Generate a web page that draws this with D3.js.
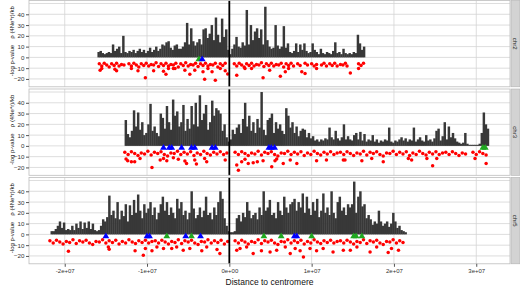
<!DOCTYPE html>
<html>
<head>
<meta charset="utf-8">
<script src="https://cdn.jsdelivr.net/npm/d3@7"></script>
<style>
  body { margin: 0; background: #fff; }
  svg { display: block; font-family: "Liberation Sans", Arial, sans-serif; }
</style>
</head>
<body>
<svg id="chart" width="520" height="287"></svg>
<script>
// one facet per chromosome
var chromosomes = ["chr2", "chr3", "chr5"];

// rho (4Ne*r)/kb in 0.25 Mb windows, first window starts at chrXStart (Mb from centromere)
var binMb = 0.25;
var chr2Start = -15.9;
var chr2Rho = [5,6,4,3,4,5,4,12,6,8, 10,4,20,5,4,6,5,7,4,6, 8,5,7,4,6,9,5,7,10,6, 8,12,11,14,15,9,7,11,12,8,
  8,10,14,32,12,27,15,11,14,17, 12,26,27,18,22,30,16,37,21,14, 36,19,26,7,3,8,12,19,10,9, 14,11,44,12,30,16,24,27,18,26,
  12,47,16,10,8,9,30,11,8,10, 29,9,13,5,4,6,13,5,12,7, 13,6,4,5,13,7,5,3,8,4, 3,5,4,3,6,14,4,5,3,8, 4,3,4,3,5,4,21,13,7,10];

var chr3Start = -12.6;
var chr3Rho = [24,11,8,14,33,18,31,15,22,10, 12,20,39,14,18,12,9,30,26,16, 37,22,15,43,28,32,18,22,38,14,
  25,16,37,20,40,18,47,24,30,38, 15,22,42,28,35,33,30,14,20,8, 4,6,15,11,17,20,12,25,40,18, 28,14,22,12,25,17,50,15,10,24,
  26,30,12,22,16,20,14,11,35,28, 17,22,12,18,9,14,16,15,8,12, 7,9,5,6,4,6,5,7,6,17, 8,6,14,7,5,8,20,6,9,6,
  5,10,12,6,13,5,11,4,6,5, 10,4,6,3,5,4,6,5,17,4, 3,5,4,6,8,5,7,4,6,5, 17,4,6,8,5,4,10,5,6,4,
  7,14,16,5,9,22,6,18,8,12, 7,4,3,2,3,12,2,1,1,1, 1,1,2,12,31,20,16];

var chr5Start = -21.6;
var chr5Rho = [3,3,5,8,12,6,11,4,5,4, 8,4,10,6,12,5,11,6,12,5, 10,4,3,4,8,14,12,16,36,18, 22,15,30,14,22,17,28,12,27,18,
  32,20,37,22,15,28,20,24,30,18, 25,14,20,28,35,22,30,18,25,20, 15,33,24,30,18,22,14,20,40,24, 15,18,25,16,22,35,18,20,14,25,
  18,30,40,33,15,8,3,2,2,3, 15,18,12,20,16,30,22,15,18,20, 14,25,18,40,22,25,32,18,20,15, 30,22,18,35,25,20,28,30,33,22,
  30,25,38,20,35,24,18,30,22,33, 16,22,38,20,25,18,40,20,15,30, 35,22,25,18,28,25,28,49,20,35, 40,26,28,15,18,14,9,12,10,22,
  12,8,10,12,7,10,20,12,6,8, 4,3,2];

// [Mb from centromere, -(-log p-value)]
var chr2Pval = [
  [-15.8,-6],[-15.5,-8],[-15.2,-5.5],[-14.9,-7],[-14.6,-9],[-14.3,-6],[-14.0,-7.5],[-13.7,-5.5],[-13.4,-8],[-13.1,-6.5],[-12.8,-7],
  [-12.2,-6],[-11.9,-8],[-11.6,-5.5],[-11.3,-7],[-11.0,-9],[-10.7,-6],[-10.4,-7.5],[-10.1,-5.5],[-9.8,-8],[-9.5,-6.5],[-9.2,-7],
  [-8.9,-5],[-8.6,-8.5],[-8.3,-6],[-8.0,-7.5],[-7.7,-5.5],[-7.4,-8],[-7.1,-6.5],[-6.8,-7],[-6.5,-5.5],[-6.2,-9],[-5.9,-6],
  [-5.6,-7.5],[-5.3,-5],[-5.0,-8],[-4.7,-6.5],[-4.4,-7],[-4.1,-5.5],[-3.8,-8.5],[-3.5,-6],[-3.2,-7.5],[-2.9,-5.5],[-2.6,-8],
  [-2.3,-6.5],[-2.0,-7],[-1.7,-5.5],[-1.4,-9],[-1.1,-6],[-0.8,-7.5],[-0.5,-5.5],
  [0.6,-6],[0.9,-8],[1.2,-5.5],[1.5,-7],[1.8,-9],[2.1,-6],[2.4,-7.5],[2.7,-5.5],[3.0,-8],[3.3,-6.5],[3.6,-7],[3.9,-5],
  [4.2,-8.5],[4.5,-6],[4.8,-7.5],[5.1,-5.5],[5.4,-8],[5.7,-6.5],[6.0,-7],[6.3,-5.5],[6.6,-9],[6.9,-6],[7.2,-7.5],[7.5,-5.5],[7.8,-8],
  [8.3,-6],[8.6,-7.5],[9.2,-5.5],[9.5,-7],[10.0,-6],[10.3,-8],[10.6,-6.5],[11.2,-7],[11.5,-5.5],[11.8,-8],[12.2,-6],[12.5,-7.5],
  [12.8,-5.5],[13.1,-8],[13.5,-6.5],[13.8,-7],[14.1,-5.5],[14.3,-8],[15.7,-6],[16.0,-7.5],[16.3,-5.5],
  [-15.7,-11.9],[-15.5,-10.3],[-13.9,-10.9],[-13.7,-12.5],[-11.9,-10.3],[-11.1,-12.5],[-10.2,-18.8],[-9.2,-12.5],[-8.0,-12.8],
  [-7.7,-15.6],[-7.4,-10.3],[-6.8,-10.3],[-6.6,-10.3],[-5.4,-11.9],[-4.8,-15.6],[-4.2,-11.9],[-3.2,-13.4],[-3.0,-20.3],
  [-2.6,-10.3],[-2.1,-13.4],[-1.7,-21.3],[-1.1,-10.3],[-0.5,-12.5],[-0.2,-15.5],[0.9,-16.6],[1.9,-10.3],[2.7,-10.3],
  [4.1,-18.8],[4.9,-11.9],[6.2,-17.5],[6.8,-13.4],[7.2,-10.3],[8.8,-13.4],[9.2,-15],[10.6,-10.3],[14.7,-14.4],[15.7,-10.3]
];

var chr3Pval = [
  [-12.7,-6],[-12.3,-8],[-11.9,-5.5],[-11.5,-7],[-11.1,-9],[-10.7,-6.5],[-10.3,-7.5],[-9.9,-5],[-9.5,-8.5],[-9.1,-6],[-8.7,-7],
  [-8.3,-5.5],[-7.9,-8],[-7.5,-9.5],[-7.1,-6.5],[-6.7,-7],[-6.3,-5],[-5.9,-8],[-5.5,-6],[-5.1,-7.5],[-4.7,-5.5],[-4.3,-9],
  [-3.9,-6.5],[-3.5,-8],[-3.1,-5],[-2.7,-7],[-2.3,-8.5],[-1.9,-6],[-1.5,-7.5],[-1.1,-5.5],[-0.7,-8],[-0.3,-6.5],
  [0.7,-6],[1.1,-8],[1.5,-5.5],[1.9,-7],[2.3,-9],[2.7,-6.5],[3.1,-7.5],[3.5,-5],[3.9,-8.5],[4.3,-6],[4.7,-7],[5.1,-5.5],
  [5.5,-8],[5.9,-9.5],[6.3,-6.5],[6.7,-7],[7.1,-5],[7.5,-8],[7.9,-6],[8.3,-7.5],[8.7,-5.5],[9.1,-9],[9.5,-6.5],[9.9,-8],
  [10.3,-5],[10.7,-7],[11.1,-8.5],[11.5,-6],[11.9,-7.5],[12.3,-5.5],[12.7,-8],[13.1,-6.5],[13.5,-6],[13.9,-8],[14.3,-5.5],
  [14.7,-7],[15.1,-9],[15.5,-6.5],[15.9,-7.5],[16.3,-5],[16.7,-8.5],[17.1,-6],[17.5,-7],[17.9,-5.5],[18.3,-8],[18.7,-9.5],
  [19.1,-6.5],[19.5,-7],[19.9,-5],[20.3,-8],[20.7,-6],[21.1,-7.5],[21.5,-5.5],[21.9,-9],[22.3,-6.5],[22.7,-8],[23.1,-5],
  [23.5,-7],[23.9,-8.5],[24.3,-6],[24.7,-7.5],[25.1,-5.5],[25.5,-8],[25.9,-6.5],[26.3,-6],[26.7,-8],[27.1,-5.5],[27.5,-7],
  [27.9,-9],[28.3,-6.5],[28.7,-7.5],
  [29.6,-6],[30.0,-8],[30.4,-5.5],[30.8,-7],[31.2,-8.5],
  [-12.55,-12.2],[-12.35,-13.75],[-11.9,-14.7],[-11.5,-14.7],[-10.85,-11.6],[-9.4,-20],[-8.4,-13.1],[-8.0,-11.6],[-7.6,-13.75],
  [-6.8,-11],[-6.2,-12.5],[-5.4,-14],[-5.2,-16.25],[-4.2,-13.1],[-4.0,-16.9],[-3.0,-11.6],[-2.75,-14.7],[-0.5,-13.1],
  [0.9,-17.8],[1.1,-22.5],[1.5,-14.7],[1.9,-12.5],[2.3,-16.25],[2.9,-15.6],[3.4,-14.7],[4.1,-13.75],[5.15,-19.4],
  [5.55,-13.75],[5.75,-12.2],[6.55,-16.25],[7.4,-13.1],[8.2,-16.25],[10.6,-13.75],[11.8,-13.1],[13.85,-13.1],
  [14.05,-13.1],[16.1,-13.75],[17.3,-11.6],[18.7,-14.7],[21.75,-11.6],[22.15,-13.1],[24.0,-11.6],[24.7,-18.4],
  [25.2,-11.6],[29.85,-11.6],[31.2,-16.25]
];

var chr5Pval = [
  [-21.8,-6],[-21.4,-8],[-21.0,-5.5],[-20.6,-7],[-20.2,-9],[-19.8,-6.5],[-19.4,-7.5],[-19.0,-5],[-18.6,-8.5],[-18.2,-6],
  [-17.8,-7],[-17.4,-5.5],[-17.0,-8],[-16.6,-9.5],[-16.2,-6.5],[-15.8,-7],[-15.4,-5],[-15.0,-8],[-14.6,-6],[-14.2,-7.5],
  [-13.8,-5.5],[-13.4,-9],[-13.0,-6.5],[-12.6,-8],[-12.2,-5],[-11.8,-7],[-11.4,-8.5],[-11.0,-6],[-10.6,-7.5],[-10.2,-5.5],
  [-9.8,-8],[-9.4,-6.5],[-9.0,-6],[-8.6,-8],[-8.2,-5.5],[-7.8,-7],[-7.4,-9],[-7.0,-6.5],[-6.6,-7.5],[-6.2,-5],[-5.8,-8.5],
  [-5.4,-6],[-5.0,-7],[-4.6,-5.5],[-4.2,-8],[-3.8,-9.5],[-3.4,-6.5],[-3.0,-7],[-2.6,-5],[-2.2,-8],[-1.8,-6],[-1.4,-7.5],
  [-1.0,-5.5],[-0.6,-9],[-0.2,-6.5],
  [0.7,-6],[1.1,-8],[1.5,-5.5],[1.9,-7],[2.3,-9],[2.7,-6.5],[3.1,-7.5],[3.5,-5],[3.9,-8.5],[4.3,-6],[4.7,-7],[5.1,-5.5],
  [5.5,-8],[5.9,-9.5],[6.3,-6.5],[6.7,-7],[7.1,-5],[7.5,-8],[7.9,-6],[8.3,-7.5],[8.7,-5.5],[9.1,-9],[9.5,-6.5],[9.9,-8],
  [10.3,-5],[10.7,-7],[11.1,-8.5],[11.5,-6],[11.9,-7.5],[12.3,-5.5],[12.7,-8],[13.1,-6.5],[13.5,-6],[13.9,-8],[14.3,-5.5],
  [14.7,-7],[15.1,-9],[15.5,-6.5],[15.9,-7.5],[16.3,-5],[16.7,-8.5],[17.1,-6],[17.5,-7],[17.9,-5.5],[18.3,-8],[18.7,-9.5],
  [19.1,-6.5],[19.5,-7],[19.9,-5],[20.3,-8],[20.7,-6],[21.1,-7.5],
  [-19.55,-15.6],[-14.7,-11.6],[-14.6,-13.75],[-11.45,-15.3],[-10.45,-19.4],[-10.2,-13.1],[-9.4,-15.3],[-8.8,-11.6],
  [-8.0,-13.1],[-7.0,-13.1],[-6.4,-11.6],[-5.6,-14.7],[-4.8,-13.1],[-3.35,-15.3],[-2.75,-11.6],[-1.5,-14],[-1.15,-17.8],
  [0.9,-14.7],[1.3,-13.1],[2.1,-11.6],[2.9,-17.8],[3.9,-15.3],[4.95,-16.25],[5.75,-14.7],[6.8,-11.6],[7.4,-17.8],
  [8.0,-13.1],[8.6,-15.3],[9.0,-21],[9.8,-13.1],[10.6,-15.3],[11.4,-13.1],[12.6,-16.25],[13.85,-14.7],[14.7,-14.7],
  [15.5,-11.6],[17.1,-16.25],[17.9,-11.6],[19.3,-16.9],[19.7,-13.1],[20.55,-14.7]
];

// marker positions (Mb from centromere)
var chr2Blue = [-3.3];
var chr2Green = [-3.7];
var chr3Blue = [-8.0, -7.3, -7.0, -5.8, -4.6, -4.2, -2.1, -1.7, 4.8, 5.1, 5.5];
var chr3Green = [30.8, 31.1];
var chr5Blue = [-15.0, -10.0, -9.7, -5.3, -3.5, 7.9, 8.2];
var chr5Green = [-7.6, -4.6, 4.2, 6.3, 10.0, 15.1, 15.4, 16.1];

var xTicks = [-2e7, -1e7, 0, 1e7, 2e7, 3e7];
var xTickLabels = ["-2e+07", "-1e+07", "0e+00", "1e+07", "2e+07", "3e+07"];
var yTicks = [-20, -10, 0, 10, 20, 30, 40];
var yGrid = [-20, -10, 0, 10, 20, 30, 40, 50];

var panels = [
  {name: chromosomes[0], start: chr2Start, rho: chr2Rho, pval: chr2Pval, blue: chr2Blue, green: chr2Green},
  {name: chromosomes[1], start: chr3Start, rho: chr3Rho, pval: chr3Pval, blue: chr3Blue, green: chr3Green},
  {name: chromosomes[2], start: chr5Start, rho: chr5Rho, pval: chr5Pval, blue: chr5Blue, green: chr5Green}
];

var left = 29, right = 510, panelH = 86.3;
var tops = [0.5, 89, 177.5];

var svg = d3.select("#chart");

var x = d3.scaleLinear().domain([-24.34e6, 34.1e6]).range([left, right]);
var y = d3.scaleLinear().domain([-27.3, 52.8]).range([panelH, 0]);
var binW = x(binMb * 1e6) - x(0);

var tri = d3.symbol().type(d3.symbolTriangle).size(20);

panels.forEach(function(p, k) {
    var g = svg.append("g").attr("transform", "translate(0," + tops[k] + ")");

    g.append("rect")
        .attr("x", left).attr("y", 0)
        .attr("width", right - left).attr("height", panelH)
        .attr("fill", "#fff");

    // grid
    g.selectAll(".hgrid").data(yGrid).enter().append("line")
        .attr("x1", left).attr("x2", right)
        .attr("y1", d => y(d)).attr("y2", d => y(d))
        .attr("stroke", "#d4d4d4").attr("stroke-width", 0.8);
    g.selectAll(".vgrid").data(xTicks).enter().append("line")
        .attr("x1", d => x(d)).attr("x2", d => x(d))
        .attr("y1", 0).attr("y2", panelH)
        .attr("stroke", "#d4d4d4").attr("stroke-width", 0.8);

    // rho bars, one per window (slight overlap so no seams)
    g.selectAll(".bar").data(p.rho).enter().append("rect")
        .attr("x", (d, i) => x((p.start + i * binMb) * 1e6) - binW / 2)
        .attr("width", binW + 0.4)
        .attr("y", d => y(d))
        .attr("height", d => y(0) - y(d))
        .attr("fill", "#383838");

    // p-values below zero
    g.selectAll(".pv").data(p.pval).enter().append("circle")
        .attr("cx", d => x(d[0] * 1e6))
        .attr("cy", d => y(d[1]))
        .attr("r", 1.75)
        .attr("fill", "#ff0000");

    // markers
    g.selectAll(".green").data(p.green).enter().append("path")
        .attr("d", tri)
        .attr("transform", d => "translate(" + x(d * 1e6) + "," + y(-1.8) + ")")
        .attr("fill", "#1fa81f");
    g.selectAll(".blue").data(p.blue).enter().append("path")
        .attr("d", tri)
        .attr("transform", d => "translate(" + x(d * 1e6) + "," + y(-1.8) + ")")
        .attr("fill", "#0000ff");

    // centromere
    g.append("line")
        .attr("x1", x(0)).attr("x2", x(0))
        .attr("y1", 0).attr("y2", panelH)
        .attr("stroke", "#000").attr("stroke-width", 1.8);

    // panel border
    g.append("rect")
        .attr("x", left).attr("y", 0)
        .attr("width", right - left).attr("height", panelH)
        .attr("fill", "none").attr("stroke", "#bdbdbd").attr("stroke-width", 0.8);

    // y axis
    var ya = g.append("g")
        .attr("transform", "translate(" + left + ",0)")
        .call(d3.axisLeft(y).tickValues(yTicks).tickSize(3).tickPadding(1.5));
    ya.select(".domain").remove();
    ya.selectAll("line").attr("stroke", "#555");
    ya.selectAll("text").attr("fill", "#333").style("font-size", "6.2px").style("font-family", "inherit");

    // y titles
    g.append("text")
        .attr("transform", "translate(14,22) rotate(-90)")
        .attr("text-anchor", "middle")
        .style("font-size", "6px")
        .attr("fill", "#111")
        .text("ρ (4Ne*r)/kb");
    g.append("text")
        .attr("transform", "translate(14,60) rotate(-90)")
        .attr("text-anchor", "middle")
        .style("font-size", "6px")
        .attr("fill", "#111")
        .text("-log p-value");

    // strip
    g.append("rect")
        .attr("x", right + 1).attr("y", 0)
        .attr("width", 9).attr("height", panelH)
        .attr("fill", "#d3d3d3").attr("stroke", "#b0b0b0").attr("stroke-width", 0.6);
    g.append("text")
        .attr("transform", "translate(" + (right + 5.5) + "," + (panelH / 2) + ") rotate(90)")
        .attr("text-anchor", "middle")
        .attr("dy", "0.35em")
        .style("font-size", "6px")
        .attr("fill", "#1a1a1a")
        .text(p.name);
});

// x axis under last panel
var xa = svg.append("g")
    .attr("transform", "translate(0," + (tops[2] + panelH) + ")")
    .call(d3.axisBottom(x).tickValues(xTicks).tickFormat((d, i) => xTickLabels[i]).tickSize(3).tickPadding(1.5));
xa.select(".domain").remove();
xa.selectAll("line").attr("stroke", "#555");
xa.selectAll("text").attr("fill", "#333").style("font-size", "6px").style("font-family", "inherit");

svg.append("text")
    .attr("x", (left + right) / 2)
    .attr("y", 285)
    .attr("text-anchor", "middle")
    .style("font-size", "8.5px")
    .attr("fill", "#111")
    .text("Distance to centromere");
</script>
</body>
</html>
